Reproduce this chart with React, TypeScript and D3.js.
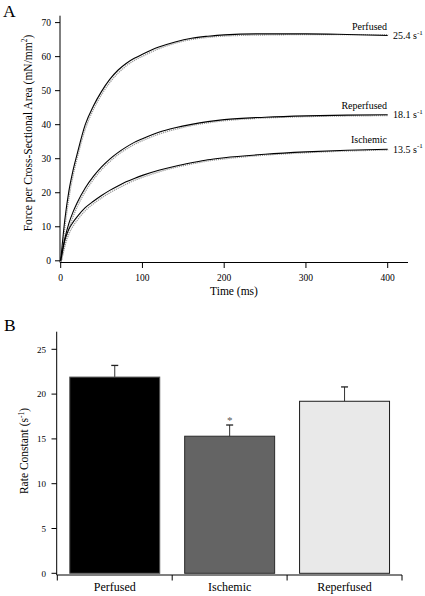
import React from "react";
import * as d3 from "d3";

const timeMs = [0, 5, 10, 15, 20, 30, 40, 50, 60, 70, 80, 90, 100, 120, 140, 160, 180, 200, 250, 300, 350, 400];
const perfusedTrace = [0, 12, 20.5, 26.5, 31.3, 40, 45.5, 49.8, 53.3, 56, 58, 59.5, 60.7, 62.8, 64.3, 65.4, 66, 66.4, 66.7, 66.7, 66.5, 66.2];
const reperfusedTrace = [0, 6.5, 11, 14.3, 17, 21.4, 24.8, 27.6, 29.9, 31.8, 33.4, 34.8, 35.9, 37.8, 39.1, 40.1, 40.9, 41.5, 42.2, 42.6, 42.8, 42.9];
const ischemicTrace = [0, 6, 9.3, 11.3, 12.9, 15.6, 17.5, 19.2, 20.7, 22, 23.2, 24.2, 25.1, 26.6, 27.8, 28.8, 29.7, 30.3, 31.3, 32, 32.5, 32.8];
const perfusedFit = [0, 11, 19.5, 25.8, 30.8, 39.3, 45, 49.3, 52.8, 55.5, 57.6, 59.2, 60.4, 62.6, 64.2, 65.3, 65.9, 66.3, 66.6, 66.7, 66.7, 66.7];
const reperfusedFit = [0, 5.5, 10, 13.5, 16.3, 20.8, 24.3, 27.2, 29.5, 31.5, 33.1, 34.5, 35.6, 37.5, 38.9, 40, 40.8, 41.4, 42.2, 42.6, 42.8, 42.9];
const ischemicFit = [0, 5, 8.4, 10.6, 12.3, 15.1, 17.1, 18.8, 20.3, 21.6, 22.8, 23.9, 24.8, 26.4, 27.7, 28.7, 29.6, 30.2, 31.3, 32, 32.5, 32.8];
const traceNames = ["Perfused", "Reperfused", "Ischemic"];
const traceRates = ["25.4", "18.1", "13.5"];
const forceTicks = [0, 10, 20, 30, 40, 50, 60, 70];
const timeTicks = [0, 100, 200, 300, 400];

const groups = ["Perfused", "Ischemic", "Reperfused"];
const rateMeans = [21.9, 15.3, 19.2];
const rateErrors = [1.3, 1.25, 1.6];
const rateTicks = [0, 5, 10, 15, 20, 25];
const barFills = ["#000000", "#646464", "#e9e9e9"];
const barStrokes = ["#555555", "#2a2a2a", "#1a1a1a"];

const FONT = "'Liberation Serif', 'Times New Roman', serif";

export default function App() {
  // Panel A scales
  const xA = d3.scaleLinear().domain([0, 400]).range([60.7, 387.7]);
  const yA = d3.scaleLinear().domain([0, 70]).range([260.8, 22.6]);
  const line = d3
    .line<number>()
    .x((_, i) => xA(timeMs[i]))
    .y((d) => yA(d))
    .curve(d3.curveMonotoneX);
  const traces = [perfusedTrace, reperfusedTrace, ischemicTrace];
  const fits = [perfusedFit, reperfusedFit, ischemicFit];

  // Panel B scales
  const xB = d3.scaleBand<string>().domain(groups).range([57.3, 402]).paddingInner(0.217).paddingOuter(0.1085);
  const yB = d3.scaleLinear().domain([0, 25]).range([573.3, 349.3]);
  const bandEdges = [57.3, ...groups.map((g) => (xB(g) as number) + xB.bandwidth() + (xB.step() * 0.217) / 2)];

  return (
    <svg width={425} height={596} style={{ position: "absolute", left: 0, top: 0, background: "#fff" }} fontFamily={FONT}>
      {/* Panel A */}
      <text x={3} y={17} fontSize={17.5}>A</text>
      <line x1={60} x2={60} y1={15.7} y2={262.5} stroke="#000" strokeWidth={1} />
      <line x1={60} x2={408} y1={262.5} y2={262.5} stroke="#000" strokeWidth={1} />
      {forceTicks.map((t) => (
        <g key={"fy" + t}>
          <line x1={55} x2={60} y1={yA(t)} y2={yA(t)} stroke="#000" />
          <text x={51} y={yA(t) + 3.3} fontSize={9.5} textAnchor="end">{t}</text>
        </g>
      ))}
      {timeTicks.map((t) => (
        <g key={"fx" + t}>
          <line x1={xA(t)} x2={xA(t)} y1={262.5} y2={268} stroke="#000" />
          <text x={xA(t)} y={281} fontSize={9.5} textAnchor="middle">{t}</text>
        </g>
      ))}
      <text x={234} y={295} fontSize={11.5} textAnchor="middle">Time (ms)</text>
      <text transform="translate(32,133) rotate(-90)" fontSize={11.5} textAnchor="middle">
        Force per Cross-Sectional Area (mN/mm<tspan dy={-5} fontSize={7.5}>2</tspan><tspan dy={5}>)</tspan>
      </text>
      {traces.map((tr, i) => (
        <g key={"tr" + i}>
          <path d={line(fits[i]) as string} fill="none" stroke="#999" strokeWidth={1.3} strokeDasharray="1.2,0.9" transform="translate(0.5,0.8)" />
          <path d={line(tr) as string} fill="none" stroke="#000" strokeWidth={1.1} />
          <text x={387} y={yA(tr[tr.length - 1]) - 6} fontSize={10} textAnchor="end">{traceNames[i]}</text>
          <text x={393} y={yA(tr[tr.length - 1]) + 3.5} fontSize={10}>
            {traceRates[i]} s<tspan dy={-4.5} fontSize={7}>-1</tspan>
          </text>
        </g>
      ))}

      {/* Panel B */}
      <text x={4} y={331} fontSize={17.5}>B</text>
      <line x1={56.7} x2={56.7} y1={331.7} y2={575} stroke="#000" />
      <line x1={56.7} x2={402} y1={575} y2={575} stroke="#000" />
      {rateTicks.map((t) => (
        <g key={"ry" + t}>
          <line x1={51.5} x2={56.7} y1={yB(t)} y2={yB(t)} stroke="#000" />
          <text x={46} y={yB(t) + 3.2} fontSize={9} textAnchor="end">{t}</text>
        </g>
      ))}
      {bandEdges.map((x, i) => (
        <line key={"be" + i} x1={x} x2={x} y1={575} y2={580.5} stroke="#000" />
      ))}
      {groups.map((g, i) => {
        const x0 = xB(g) as number;
        const w = xB.bandwidth();
        const cx = x0 + w / 2;
        return (
          <g key={"bar" + g}>
            <line x1={cx} x2={cx} y1={yB(rateMeans[i])} y2={yB(rateMeans[i] + rateErrors[i])} stroke="#333" strokeWidth={1} />
            <line x1={cx - 3.5} x2={cx + 3.5} y1={yB(rateMeans[i] + rateErrors[i])} y2={yB(rateMeans[i] + rateErrors[i])} stroke="#222" strokeWidth={1.3} />
            <rect x={x0} y={yB(rateMeans[i])} width={w} height={yB(0) - yB(rateMeans[i])} fill={barFills[i]} stroke={barStrokes[i]} strokeWidth={1} />
            <text x={cx} y={591} fontSize={12} textAnchor="middle">{g}</text>
          </g>
        );
      })}
      <text x={(xB("Ischemic") as number) + xB.bandwidth() / 2} y={yB(rateMeans[1] + rateErrors[1]) - 1} fontSize={11} fill="#555" textAnchor="middle">*</text>
      <text transform="translate(28,451) rotate(-90)" fontSize={11.5} textAnchor="middle">
        Rate Constant (s<tspan dy={-4.5} fontSize={7.5}>-1</tspan><tspan dy={4.5}>)</tspan>
      </text>
    </svg>
  );
}
